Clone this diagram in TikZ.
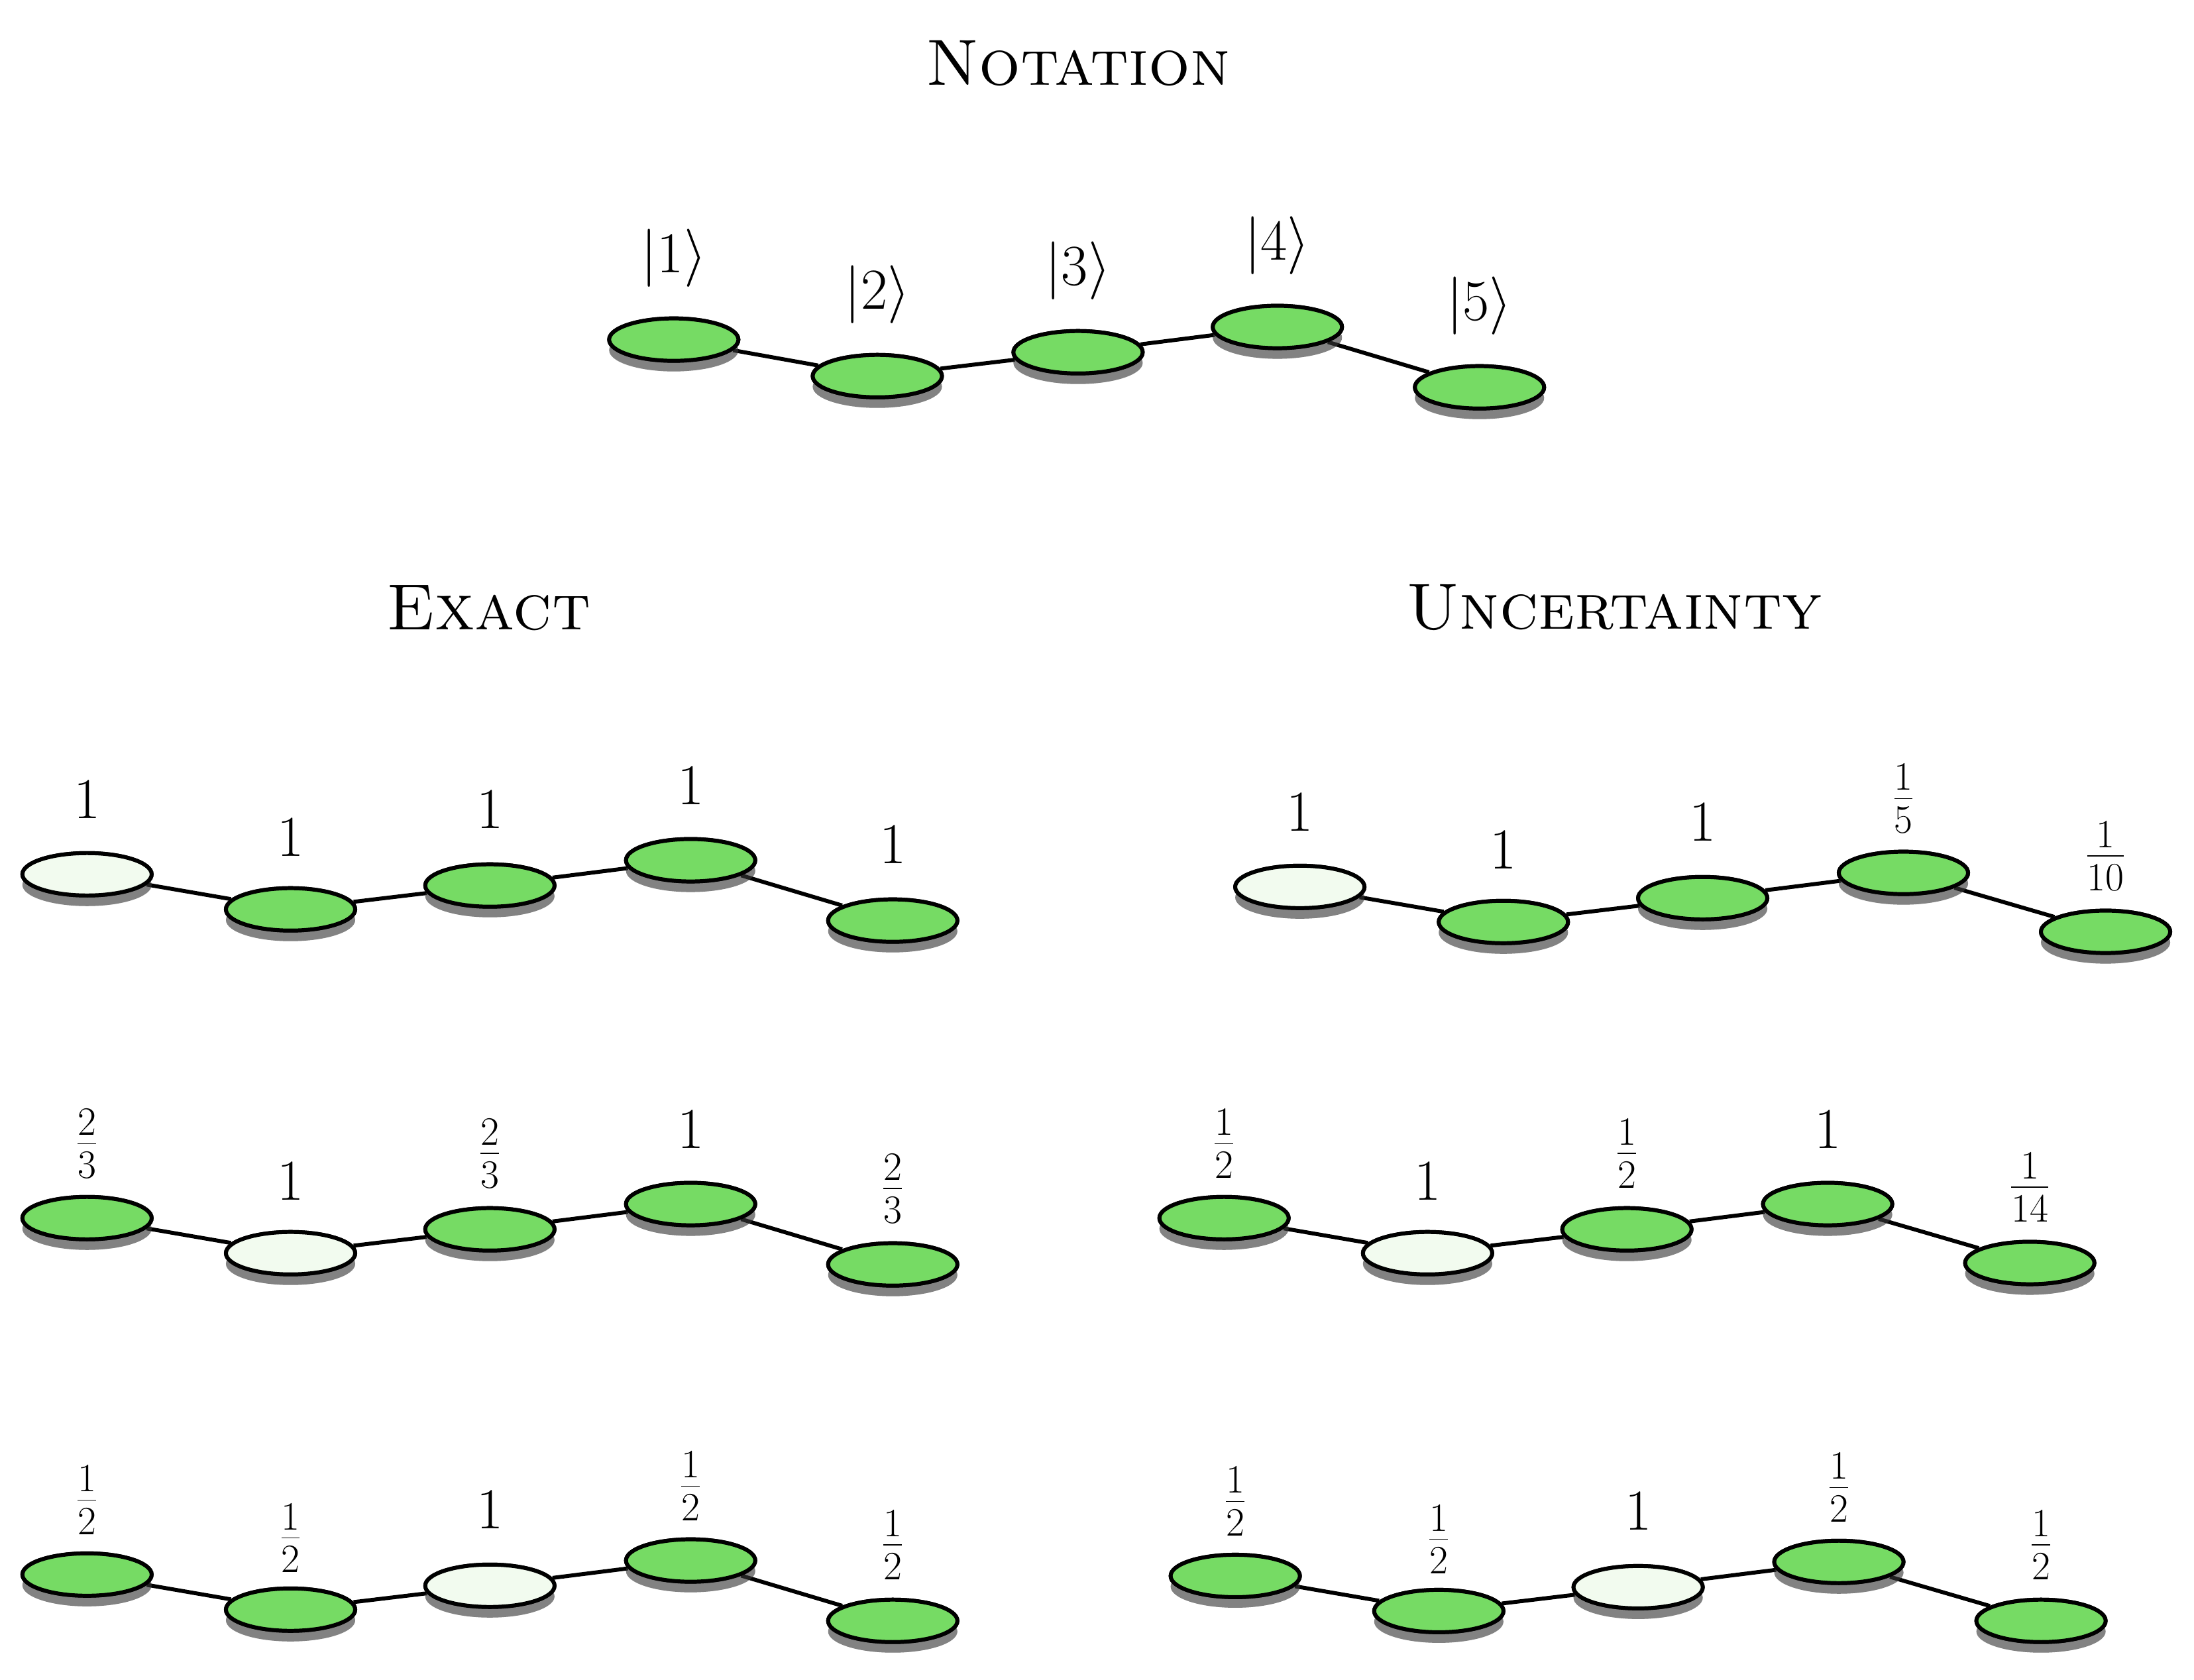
\documentclass[tikz,border=0pt]{standalone}
\usetikzlibrary{shadows,shapes.geometric}
\definecolor{gr}{HTML}{76DB64}
\definecolor{lt}{HTML}{F2FBEF}
\tikzset{
  st/.style={ellipse,draw=black,line width=1.7pt,minimum width=1.95cm,minimum height=0.64cm,inner sep=0pt,
    drop shadow={shadow xshift=0pt,shadow yshift=-0.16cm,opacity=0.45,fill=black!70}},
  g/.style={st,fill=gr}, w/.style={st,fill=lt},
  lab/.style={font=\fontsize{26}{30}\selectfont},
  ttl/.style={font=\fontsize{28}{32}\selectfont\scshape},
  ed/.style={line width=1.7pt}
}
\begin{document}
\begin{tikzpicture}[x=0.02118cm,y=-0.02118cm]
\useasboundingbox (0,0) rectangle (1563,1197);
\node[ttl] (t0) at (768,45) {Notation};
\node[ttl] (t1) at (348,433) {Exact};
\node[ttl] (t2) at (1150,433) {Uncertainty};
\foreach \n/\x/\y in {1/480/242,2/625/268,3/768/251,4/910/233,5/1054/276}
  {\node[g] (n\n) at (\x,\y) {}; \node[lab] (nl\n) at (\x,\y-58) {$|\n\rangle$};}
\draw[ed] (n1)--(n2)--(n3)--(n4)--(n5);
\foreach \n in {1,...,5} \node[g] at (n\n) {};
% Exact
\foreach \r/\dy/\sa/\sb/\sc/\sd/\se/\ma/\mb/\mc/\md/\me in {
  a/0/w/g/g/g/g/1/1/1/1/1,
  b/245/g/w/g/g/g/\frac23/1/\frac23/1/\frac23,
  c/499/g/g/w/g/g/\frac12/\frac12/1/\frac12/\frac12}{
  \node[\sa] (\r1) at (62,623+\dy) {};
  \node[\sb] (\r2) at (207,648+\dy) {};
  \node[\sc] (\r3) at (349,631+\dy) {};
  \node[\sd] (\r4) at (492,613+\dy) {};
  \node[\se] (\r5) at (636,656+\dy) {};
  \draw[ed] (\r1)--(\r2)--(\r3)--(\r4)--(\r5);
  \node[\sa] at (\r1) {};\node[\sb] at (\r2) {};\node[\sc] at (\r3) {};\node[\sd] at (\r4) {};\node[\se] at (\r5) {};
  \node[lab] (\r l1) at (62,570+\dy) {$\ma$};
  \node[lab] (\r l2) at (207,597+\dy) {$\mb$};
  \node[lab] (\r l3) at (349,577+\dy) {$\mc$};
  \node[lab] (\r l4) at (492,560+\dy) {$\md$};
  \node[lab] (\r l5) at (636,602+\dy) {$\me$};
}
% Uncertainty
\foreach \r/\x/\y/\sa/\sb/\sc/\sd/\se/\ma/\mb/\mc/\md/\me in {
  p/926/632/w/g/g/g/g/1/1/1/\frac15/\frac1{10},
  q/872/868/g/w/g/g/g/\frac12/1/\frac12/1/\frac1{14},
  s/880/1123/g/g/w/g/g/\frac12/\frac12/1/\frac12/\frac12}{
  \node[\sa] (\r1) at (\x,\y) {};
  \node[\sb] (\r2) at (\x+145,\y+25) {};
  \node[\sc] (\r3) at (\x+287,\y+8) {};
  \node[\sd] (\r4) at (\x+430,\y-10) {};
  \node[\se] (\r5) at (\x+574,\y+32) {};
  \draw[ed] (\r1)--(\r2)--(\r3)--(\r4)--(\r5);
  \node[\sa] at (\r1) {};\node[\sb] at (\r2) {};\node[\sc] at (\r3) {};\node[\sd] at (\r4) {};\node[\se] at (\r5) {};
  \node[lab] (\r l1) at (\x,\y-53) {$\ma$};
  \node[lab] (\r l2) at (\x+145,\y-26) {$\mb$};
  \node[lab] (\r l3) at (\x+287,\y-46) {$\mc$};
  \node[lab] (\r l4) at (\x+430,\y-63) {$\md$};
  \node[lab] (\r l5) at (\x+574,\y-22) {$\me$};
}
\end{tikzpicture}
\end{document}
